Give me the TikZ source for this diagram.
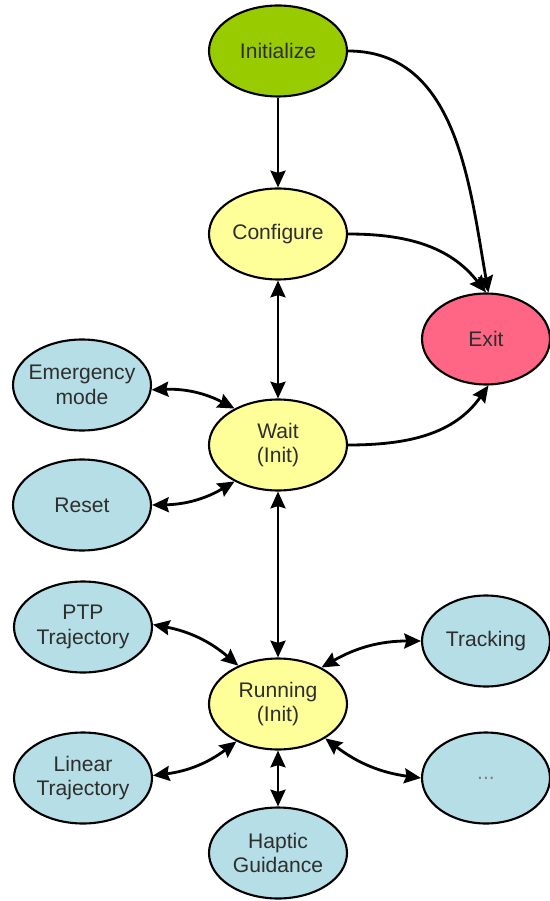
\documentclass[tikz,border=0pt]{standalone}
\usepackage{fontspec}
\setmainfont{Liberation Sans}
\usetikzlibrary{shapes.geometric,arrows.meta}

\definecolor{initgreen}{HTML}{99CC00}
\definecolor{stateyellow}{HTML}{FFFF99}
\definecolor{exitpink}{HTML}{FF6685}
\definecolor{subblue}{HTML}{B5DEE6}
\definecolor{txtgray}{HTML}{2E2E2E}

\begin{document}
\begin{tikzpicture}[x=0.02cm, y=-0.02cm,
  state/.style={ellipse, draw=black, line width=1.2pt, inner sep=0pt,
    minimum width=2.76cm, minimum height=1.82cm},
  side/.style={state, minimum width=2.56cm, minimum height=1.82cm},
  lbl/.style={font=\fontsize{12}{14}\selectfont, text=txtgray, align=center},
  tip/.tip={Stealth[length=9.5pt, width=8.5pt, inset=1.2pt]},
  link/.style={line width=1.6pt, -tip},
  both/.style={line width=1.6pt, tip-tip}]

\useasboundingbox (0,0) rectangle (550,901);

% main chain
\node[state, fill=initgreen,   label={[lbl]center:Initialize}] (init) at (278,51) {};
\node[state, fill=stateyellow, label={[lbl]center:Configure}]  (cfg)  at (278,234) {};
\node[state, fill=stateyellow, label={[lbl]center:{Wait\\(Init)}}]    (wait) at (278,445) {};
\node[state, fill=stateyellow, label={[lbl]center:{Running\\(Init)}}] (run)  at (278,704) {};
\node[side,  fill=exitpink,    label={[lbl]center:Exit}]       (exit) at (486,339) {};

% sub-states
\node[state, fill=subblue, label={[lbl]center:{Emergency\\mode}}]     (emg)   at (82,385) {};
\node[state, fill=subblue, label={[lbl]center:Reset}]                 (reset) at (82,505) {};
\node[state, fill=subblue, label={[lbl]center:{PTP\\Trajectory}}]     (ptp)   at (83,627) {};
\node[state, fill=subblue, label={[lbl]center:{Linear\\Trajectory}}]  (lin)   at (83,778) {};
\node[side,  fill=subblue, label={[lbl]center:Tracking}]              (track) at (486,641) {};
\node[side,  fill=subblue, label={[lbl, text=gray]center:...}]        (dots)  at (486,778) {};
\node[state, fill=subblue, label={[lbl]center:{Haptic\\Guidance}}]    (hap)   at (278,853) {};

% transitions
\draw[link] (init) -- (cfg);
\draw[link] (init.east) to[out=0, in=100] (exit.87);
\draw[link] (cfg.east) to[out=0, in=128] (exit.90);
\draw[link] (wait.east) to[out=0, in=-125] (exit.-87);

\draw[both] (cfg) -- (wait);
\draw[both] (wait) -- (run);
\draw[both] (run) -- (hap);

\draw[both] (emg.-4) to[bend left=15] (wait.140);
\draw[both] (reset.east) to[bend right=15] (wait.220);
\draw[both] (ptp.2) to[bend left=15] (run.136);
\draw[both] (lin.2) to[bend right=15] (run.222);
\draw[both] (run.40) to[bend left=15] (track.west);
\draw[both] (run.-36) to[bend right=15] (dots.west);
\end{tikzpicture}
\end{document}
